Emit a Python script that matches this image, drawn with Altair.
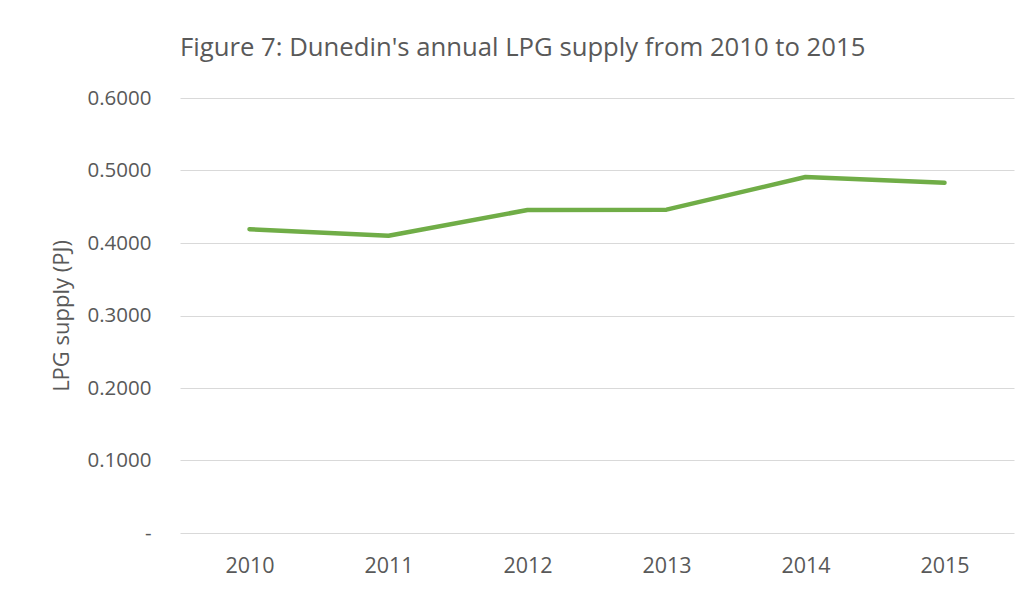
import altair as alt
import pandas as pd

years = ["2010", "2011", "2012", "2013", "2014", "2015"]
supply = [0.419, 0.410, 0.4455, 0.446, 0.491, 0.483]
y_ticks = [0.0, 0.1, 0.2, 0.3, 0.4, 0.5, 0.6]

df = pd.DataFrame({"year": years, "supply": supply})

FONT = "Open Sans"
GREY = "#595959"

chart = (
    alt.Chart(df)
    .mark_line(color="#70AD47", strokeWidth=4.5, strokeCap="round", strokeJoin="round")
    .encode(
        x=alt.X(
            "year:N",
            sort=years,
            scale=alt.Scale(paddingInner=0, paddingOuter=0.5),
            axis=alt.Axis(
                title=None,
                labelAngle=0,
                labelFontSize=21.5,
                labelColor=GREY,
                labelFont=FONT,
                labelPadding=22,
                ticks=False,
                domain=False,
                grid=False,
            ),
        ),
        y=alt.Y(
            "supply:Q",
            scale=alt.Scale(domain=[0, 0.6], nice=False),
            axis=alt.Axis(
                title="LPG supply (PJ)",
                titleFont=FONT,
                titleFontSize=22,
                titleFontWeight="normal",
                titleColor=GREY,
                titlePadding=14,
                values=y_ticks,
                labelExpr="datum.value == 0 ? '-\u00a0\u00a0' : format(datum.value, '.4f')",
                labelFontSize=20.5,
                labelColor=GREY,
                labelFont=FONT,
                labelPadding=29,
                ticks=False,
                domain=False,
                gridColor="#D9D9D9",
                gridWidth=1,
            ),
        ),
    )
    .properties(
        width=834,
        height=435,
        background="white",
        title=alt.TitleParams(
            text="Figure 7: Dunedin's annual LPG supply from 2010 to 2015",
            font=FONT,
            fontSize=25.7,
            fontWeight="normal",
            color=GREY,
            anchor="start",
            frame="group",
            offset=26,
        ),
        autosize=alt.AutoSizeParams(type="none"),
        padding={"left": 172, "top": 90, "right": 10, "bottom": 50},
    )
    .configure_view(stroke=None)
)

chart.save("out.html", embed_options={"renderer": "svg", "actions": False})
